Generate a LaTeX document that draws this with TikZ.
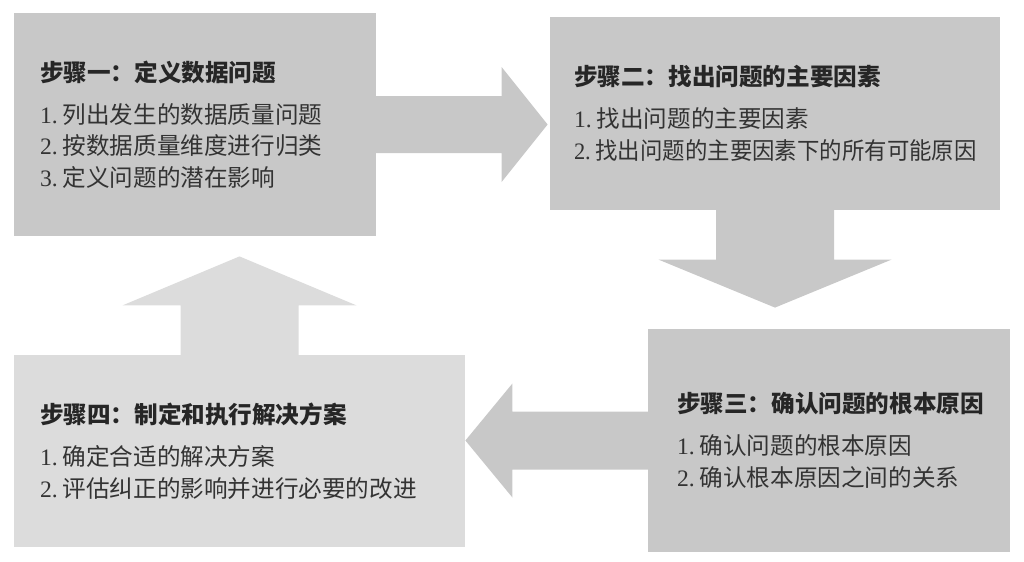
\documentclass[tikz,border=0pt]{standalone}
\usepackage{fontspec}
\setmainfont{Liberation Serif}
\newfontfamily\cjk{Noto Sans CJK SC}
\usetikzlibrary{calc}

\definecolor{stepdark}{HTML}{C8C8C8}
\definecolor{steplight}{HTML}{DCDCDC}
\definecolor{steptext}{HTML}{333333}

\tikzset{
  stepbox/.style={rectangle, inner xsep=13pt, inner ysep=0pt, align=left,
    text=steptext, font=\fontsize{11.8}{15.75}\selectfont},
}

\begin{document}
\begin{tikzpicture}[x=0.5pt, y=-0.5pt]
  \useasboundingbox (0,0) rectangle (1024,562);

  % 四个步骤
  \node[stepbox, fill=stepdark, text width=155pt, minimum height=111.5pt] (s1) at (195,124.5) {%
    {\cjk\bfseries\color{black!85} 步骤一：定义数据问题}\\[5.25pt]
    1.\hspace{2.5pt}{\cjk 列出发生的数据质量问题}\\
    2.\hspace{2.5pt}{\cjk 按数据质量维度进行归类}\\
    3.\hspace{2.5pt}{\cjk 定义问题的潜在影响}};
  \node[stepbox, fill=stepdark, inner xsep=12pt, text width=201pt, minimum height=96.5pt] (s2) at (775,113.5) {%
    {\cjk\bfseries\color{black!85} 步骤二：找出问题的主要因素}\\[5.25pt]
    1.\hspace{2.5pt}{\cjk 找出问题的主要因素}\\
    \scalebox{0.95}[1]{2.\hspace{2.5pt}{\cjk 找出问题的主要因素下的所有可能原因}}};
  \node[stepbox, fill=stepdark, inner xsep=14.5pt, text width=152pt, minimum height=111.5pt] (s3) at (829,440.5) {%
    {\cjk\bfseries\color{black!85} 步骤三：确认问题的根本原因}\\[5.25pt]
    1.\hspace{2.5pt}{\cjk 确认问题的根本原因}\\
    2.\hspace{2.5pt}{\cjk 确认根本原因之间的关系}};
  \node[stepbox, fill=steplight, text width=199.5pt, minimum height=96pt] (s4) at (239.5,451) {%
    {\cjk\bfseries\color{black!85} 步骤四：制定和执行解决方案}\\[5.25pt]
    1.\hspace{2.5pt}{\cjk 确定合适的解决方案}\\
    2.\hspace{2.5pt}{\cjk 评估纠正的影响并进行必要的改进}};

  % 步骤一 -> 步骤二
  \coordinate (t1) at ($(s2.west |- s1.east)+(-2,0)$);
  \fill[stepdark] ($(s1.east)+(-1,-28.5)$) -- ($(t1)+(-46,-28.5)$) -- ($(t1)+(-46,-57.5)$) -- (t1)
    -- ($(t1)+(-46,57.5)$) -- ($(t1)+(-46,28.5)$) -- ($(s1.east)+(-1,28.5)$) -- cycle;

  % 步骤二 -> 步骤三
  \coordinate (t2) at ($(s3.north -| s2.south)+(0,-21)$);
  \fill[stepdark] ($(s2.south)+(-59,-1)$) -- ($(t2)+(-59,-48)$) -- ($(t2)+(-116.5,-48)$) -- (t2)
    -- ($(t2)+(116.5,-48)$) -- ($(t2)+(59,-48)$) -- ($(s2.south)+(59,-1)$) -- cycle;

  % 步骤三 -> 步骤四
  \coordinate (t3) at (s4.east |- s3.west);
  \fill[stepdark] ($(s3.west)+(1,-29)$) -- ($(t3)+(47,-29)$) -- ($(t3)+(47,-57)$) -- (t3)
    -- ($(t3)+(47,57)$) -- ($(t3)+(47,29)$) -- ($(s3.west)+(1,29)$) -- cycle;

  % 步骤四 -> 步骤一
  \coordinate (t4) at ($(s1.south -| s4.north)+(0,20)$);
  \fill[steplight] ($(s4.north)+(-59,1)$) -- ($(t4)+(-59,49)$) -- ($(t4)+(-117,49)$) -- (t4)
    -- ($(t4)+(117,49)$) -- ($(t4)+(59,49)$) -- ($(s4.north)+(59,1)$) -- cycle;
\end{tikzpicture}
\end{document}
